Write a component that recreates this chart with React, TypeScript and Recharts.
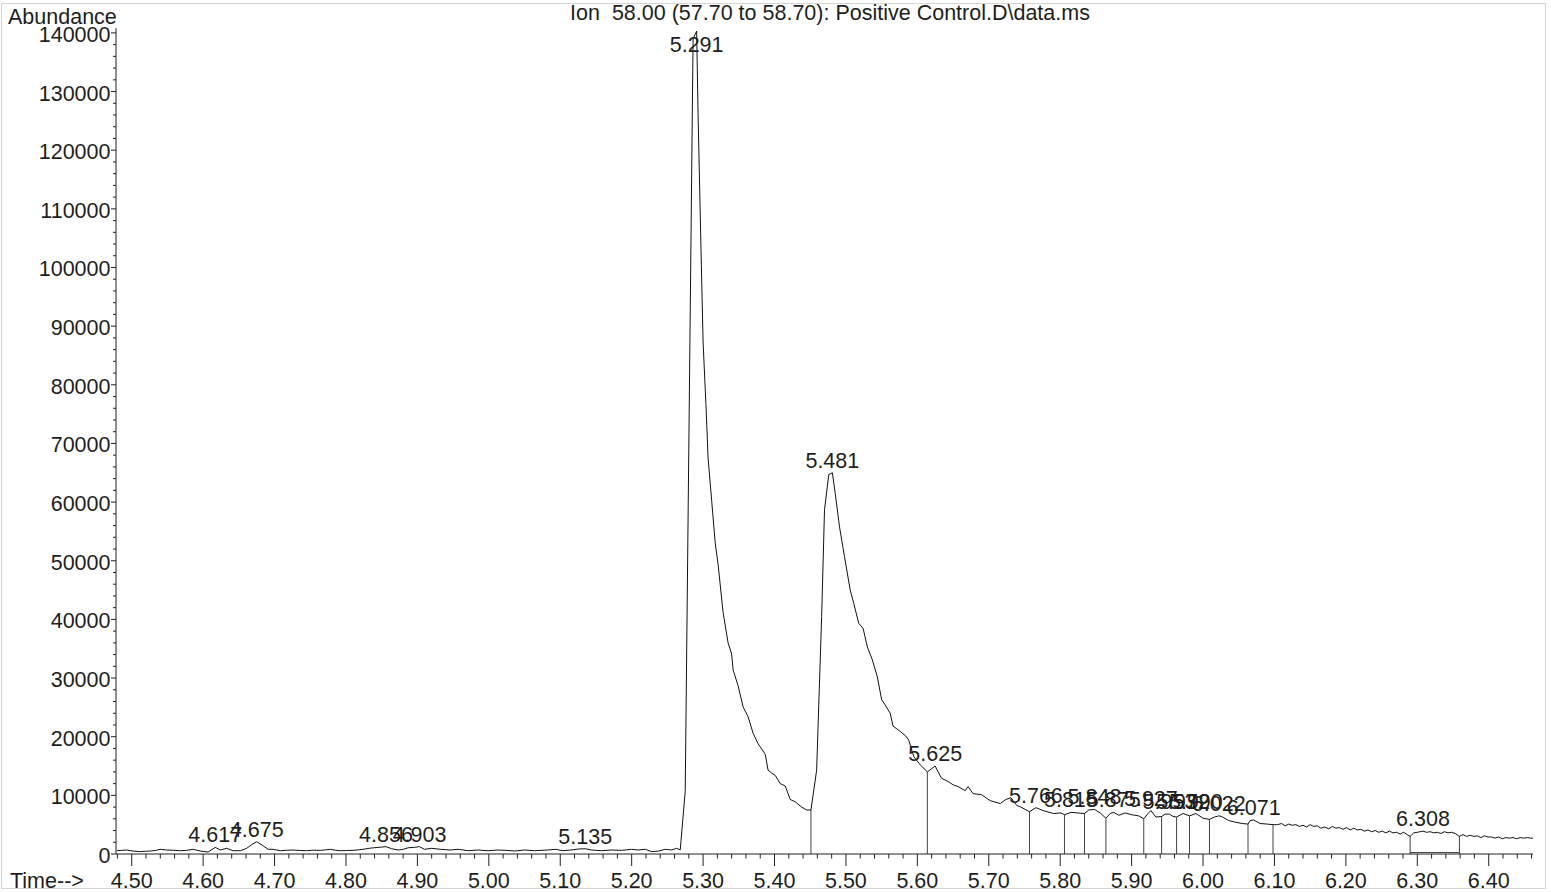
import React from 'react';
import { ComposedChart, Line, XAxis, YAxis, Scatter, ReferenceLine } from 'recharts';

const FONT = '"Liberation Sans", Arial, Helvetica, sans-serif';
const TEXT = '#1e1e1e';
const FS = 21.5;

const title = 'Ion  58.00 (57.70 to 58.70): Positive Control.D\\data.ms';
const yTitle = 'Abundance';
const xTitle = 'Time-->';

// retention time (min)
const times = [
  4.479, 4.486, 4.493, 4.502, 4.512, 4.519, 4.526, 4.533, 4.540, 4.549,
  4.558, 4.568, 4.577, 4.586, 4.596, 4.607, 4.617, 4.624, 4.633, 4.642,
  4.652, 4.661, 4.668, 4.675, 4.684, 4.691, 4.698, 4.708, 4.717, 4.726,
  4.735, 4.745, 4.754, 4.764, 4.771, 4.778, 4.785, 4.792, 4.801, 4.810,
  4.817, 4.824, 4.834, 4.846, 4.856, 4.864, 4.873, 4.880, 4.887, 4.896,
  4.903, 4.910, 4.920, 4.932, 4.946, 4.957, 4.971, 4.985, 4.999, 5.013,
  5.027, 5.036, 5.050, 5.064, 5.082, 5.094, 5.103, 5.115, 5.126, 5.135,
  5.144, 5.158, 5.172, 5.186, 5.200, 5.209, 5.219, 5.228, 5.238, 5.247,
  5.256, 5.263, 5.268, 5.275, 5.286, 5.291, 5.293, 5.297, 5.300, 5.304,
  5.307, 5.312, 5.317, 5.321, 5.328, 5.335, 5.340, 5.342, 5.349, 5.356,
  5.363, 5.370, 5.377, 5.387, 5.391, 5.396, 5.401, 5.408, 5.415, 5.422,
  5.429, 5.438, 5.445, 5.451, 5.459, 5.466, 5.470, 5.476, 5.481, 5.485,
  5.491, 5.498, 5.506, 5.511, 5.518, 5.524, 5.530, 5.537, 5.544, 5.550,
  5.555, 5.562, 5.566, 5.576, 5.584, 5.588, 5.595, 5.604, 5.614, 5.625,
  5.629, 5.634, 5.644, 5.650, 5.657, 5.667, 5.671, 5.678, 5.690, 5.702,
  5.716, 5.724, 5.731, 5.739, 5.745, 5.757, 5.766, 5.776, 5.791, 5.801,
  5.806, 5.815, 5.825, 5.834, 5.840, 5.848, 5.856, 5.864, 5.870, 5.875,
  5.882, 5.891, 5.900, 5.910, 5.917, 5.923, 5.927, 5.934, 5.942, 5.947,
  5.953, 5.958, 5.963, 5.972, 5.981, 5.990, 6.000, 6.009, 6.016, 6.022,
  6.026, 6.036, 6.046, 6.055, 6.063, 6.066, 6.071, 6.080, 6.090, 6.098,
  6.104, 6.110, 6.115, 6.120, 6.125, 6.130, 6.135, 6.140, 6.145, 6.150,
  6.155, 6.160, 6.165, 6.170, 6.176, 6.181, 6.186, 6.191, 6.196, 6.201,
  6.206, 6.211, 6.216, 6.221, 6.226, 6.231, 6.236, 6.241, 6.246, 6.251,
  6.256, 6.261, 6.266, 6.271, 6.276, 6.281, 6.286, 6.290, 6.295, 6.300,
  6.304, 6.308, 6.313, 6.318, 6.323, 6.328, 6.333, 6.338, 6.343, 6.348,
  6.353, 6.359, 6.364, 6.369, 6.374, 6.379, 6.384, 6.389, 6.394, 6.399,
  6.404, 6.409, 6.414, 6.419, 6.424, 6.429, 6.434, 6.439, 6.444, 6.449,
  6.454, 6.459, 6.462,
];

// abundance (ion 58)
const abundance = [
  560, 620, 680, 500, 400, 470, 510, 600, 800, 680,
  640, 560, 620, 800, 510, 340, 1140, 680, 970, 560,
  560, 970, 1600, 2100, 1400, 800, 800, 560, 640, 680,
  600, 560, 650, 620, 700, 800, 650, 560, 600, 620,
  700, 800, 1000, 1140, 1250, 900, 680, 800, 1060, 1140,
  1250, 800, 970, 800, 680, 800, 560, 680, 560, 680,
  600, 510, 680, 560, 680, 800, 560, 680, 850, 900,
  680, 560, 680, 620, 800, 680, 800, 400, 510, 800,
  680, 970, 700, 10700, 139000, 140300, 126000, 103600, 87300, 76600,
  67500, 60300, 53000, 49400, 41200, 36000, 34100, 31400, 28700, 25100,
  23400, 20600, 18800, 17000, 14300, 13800, 13400, 12000, 11600, 9300,
  8900, 8000, 7500, 7500, 14300, 40500, 58700, 64700, 65000, 61500,
  55800, 50700, 45000, 42700, 39300, 38500, 35300, 33100, 30200, 26300,
  25400, 24000, 21800, 20900, 20100, 19400, 16600, 15200, 14000, 15000,
  14000, 12900, 12300, 11800, 11500, 10800, 11500, 10300, 10100, 9100,
  8600, 9300, 9600, 8300, 8000, 7200, 7900, 7400, 6900, 7000,
  6700, 7100, 7000, 6900, 7500, 7600, 7000, 6100, 6900, 7100,
  6600, 7000, 6700, 6500, 6000, 6900, 7400, 6300, 6400, 6800,
  6800, 6400, 6300, 6900, 6500, 6900, 6100, 5900, 6300, 6500,
  6400, 5700, 5400, 5200, 5100, 5700, 5800, 5200, 5100, 5000,
  5000, 5200, 4800, 5100, 4900, 5000, 4700, 4900, 4600, 5000,
  4700, 4800, 4400, 4600, 4300, 4700, 4400, 4500, 4200, 4500,
  4100, 4400, 4100, 4200, 3900, 4100, 3800, 4000, 3700, 3900,
  3600, 3900, 3600, 3700, 3400, 3700, 3300, 3000, 3600, 3700,
  3800, 3900, 3700, 3800, 3600, 3700, 3500, 3800, 3600, 3700,
  3500, 3000, 3300, 3000, 3200, 3000, 3100, 2800, 3100, 2900,
  2900, 2700, 2900, 2600, 2800, 2700, 2800, 2600, 2800, 2700,
  2800, 2700, 2700,
];

// integrated peak apex labels
const peakNames = [
  '4.617', '4.675', '4.856', '4.903', '5.135', '5.291', '5.481', '5.625',
  '5.766', '5.815', '5.848', '5.875', '5.927', '5.953', '5.972', '5.990',
  '6.022', '6.071', '6.308',
];
const peakTimes = [
  4.617, 4.675, 4.856, 4.903, 5.135, 5.291, 5.481, 5.625,
  5.766, 5.815, 5.848, 5.875, 5.927, 5.953, 5.972, 5.990,
  6.022, 6.071, 6.308,
];
const peakHeights = [
  1140, 2100, 1250, 1250, 900, 140300, 65000, 15000,
  7900, 7100, 7600, 7100, 7400, 6800, 6900, 6900,
  6500, 5800, 3900,
];

// integration boundary drop lines
const dropTimes = [
  5.451, 5.614, 5.757, 5.806, 5.834, 5.864, 5.917, 5.942,
  5.963, 5.981, 6.009, 6.063, 6.098, 6.290, 6.359,
];
const dropHeights = [
  7500, 14000, 7200, 6700, 6900, 6100, 6000, 6400,
  6300, 6500, 5900, 5100, 5000, 3000, 3000,
];
const baselineStart = [6.290];
const baselineEnd = [6.359];

const xMajorLabels = [
  '4.50', '4.60', '4.70', '4.80', '4.90', '5.00', '5.10', '5.20', '5.30', '5.40',
  '5.50', '5.60', '5.70', '5.80', '5.90', '6.00', '6.10', '6.20', '6.30', '6.40',
];
const yMajorLabels = [
  '0', '10000', '20000', '30000', '40000', '50000', '60000', '70000',
  '80000', '90000', '100000', '110000', '120000', '130000', '140000',
];

const xTicks = Array.from({ length: 100 }, (_, i) => Math.round((4.48 + i * 0.02) * 100) / 100);
const yTicks = Array.from({ length: 71 }, (_, i) => i * 2000);

const XTick = (props: any) => {
  const { x, y, payload } = props;
  const v = payload.value as number;
  const c = Math.round(v * 100);
  const major = c % 10 === 0;
  const label = major ? xMajorLabels.find((s) => Math.round(parseFloat(s) * 100) === c) : undefined;
  return (
    <g>
      <line x1={x} x2={x} y1={y} y2={y + (major ? 12 : 4.5)} stroke="#222" strokeWidth={1} />
      {label && (
        <text x={x} y={y + 33.5} textAnchor="middle" fontSize={FS} fontFamily={FONT} fill={TEXT}>
          {label}
        </text>
      )}
    </g>
  );
};

const YTick = (props: any) => {
  const { x, y, payload } = props;
  const v = payload.value as number;
  const major = v % 10000 === 0;
  const label = major ? yMajorLabels.find((s) => parseInt(s, 10) === v) : undefined;
  return (
    <g>
      <line x1={x - (major ? 5 : 3)} x2={x} y1={y} y2={y} stroke="#222" strokeWidth={1} />
      {label && (
        <text x={x - 5.5} y={y + 9} textAnchor="end" fontSize={FS} fontFamily={FONT} fill={TEXT}>
          {label}
        </text>
      )}
    </g>
  );
};

const LabelShape = (props: any) => {
  const { cx, cy, payload } = props;
  if (cx == null || cy == null) return <g />;
  return (
    <text x={cx} y={Math.max(cy - 5, 51.5)} textAnchor="middle" fontSize={FS} fontFamily={FONT} fill={TEXT}>
      {payload.name}
    </text>
  );
};

export default function App() {
  const trace = times.map((t, i) => ({ t, a: abundance[i] }));
  const labels = peakTimes.map((t, i) => ({ t, a: peakHeights[i], name: peakNames[i] }));
  return (
    <div style={{ position: 'absolute', left: 0, top: 0, width: 1551, height: 892, background: '#fff' }}>
      <div
        style={{
          position: 'absolute', left: 1, top: 3, width: 1545, height: 886,
          border: '1px solid #d4d4d4', boxSizing: 'border-box',
        }}
      />
      <div style={{ position: 'absolute', left: 0, top: 0 }}>
        <ComposedChart width={1551} height={892} margin={{ top: 28.2, right: 18, bottom: 0, left: 0 }}>
          <XAxis
            dataKey="t" type="number" domain={[4.478, 6.462]} allowDataOverflow
            ticks={xTicks} interval={0} tickSize={0} tickMargin={0} tickLine={false}
            tick={XTick} height={38} axisLine={{ stroke: '#222' }}
          />
          <YAxis
            dataKey="a" type="number" domain={[0, 140800]} allowDataOverflow
            ticks={yTicks} interval={0} tickSize={0} tickMargin={0} tickLine={false}
            tick={YTick} width={116} axisLine={{ stroke: '#222' }}
          />
          {dropTimes.map((t, i) => (
            <ReferenceLine
              key={'d' + i}
              segment={[{ x: t, y: 0 }, { x: t, y: dropHeights[i] }]}
              stroke="#444" strokeWidth={1} ifOverflow="visible"
            />
          ))}
          {baselineStart.map((t, i) => (
            <ReferenceLine
              key={'b' + i}
              segment={[{ x: t, y: 250 }, { x: baselineEnd[i], y: 250 }]}
              stroke="#444" strokeWidth={1} ifOverflow="visible"
            />
          ))}
          <Line
            data={trace} dataKey="a" type="linear" stroke="#111" strokeWidth={1}
            dot={false} activeDot={false} isAnimationActive={false}
          />
          <Scatter data={labels} dataKey="a" shape={LabelShape} isAnimationActive={false} />
        </ComposedChart>
      </div>
      <svg
        width={1551} height={892}
        style={{ position: 'absolute', left: 0, top: 0, pointerEvents: 'none' }}
      >
        <text x={830} y={19.5} textAnchor="middle" fontSize={FS} fontFamily={FONT} fill={TEXT} style={{ whiteSpace: 'pre' }}>
          {title}
        </text>
        <text x={8} y={23.5} fontSize={FS} fontFamily={FONT} fill={TEXT}>
          {yTitle}
        </text>
        <text x={10} y={887.5} fontSize={FS} fontFamily={FONT} fill={TEXT}>
          {xTitle}
        </text>
      </svg>
    </div>
  );
}
